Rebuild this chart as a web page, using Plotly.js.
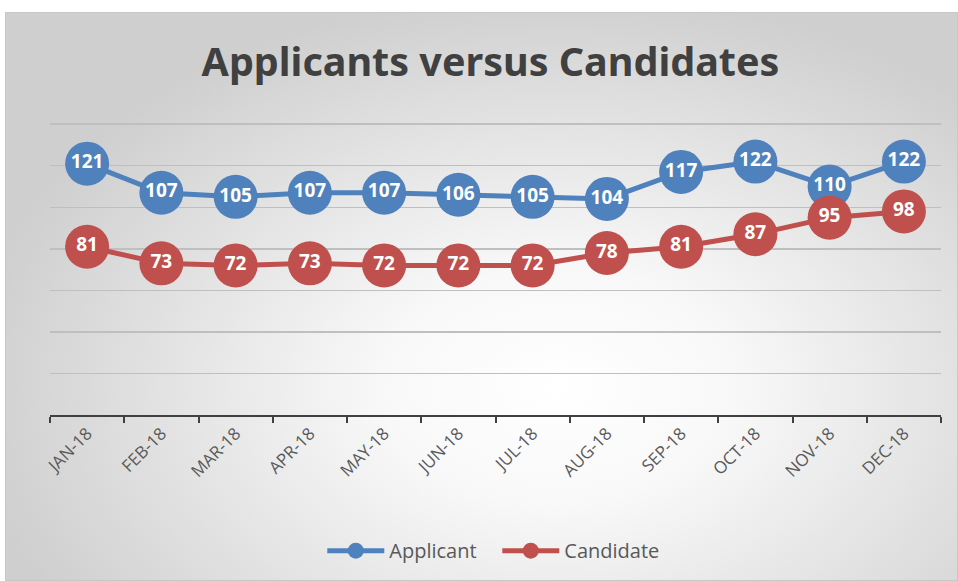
<!DOCTYPE html>
<html>
<head>
<meta charset="utf-8">
<script src="https://cdn.plot.ly/plotly-3.0.1.min.js"></script>
<style>
  body { margin: 0; background: #fff; }
  #frame {
    position: absolute; left: 5px; top: 12px; width: 951px; height: 567px;
    border: 1px solid #c8c8c8;
    background: radial-gradient(ellipse 62% 70% at 58% 66%, #ffffff 0%, #f8f8f8 30%, #cfcfcf 100%);
  }
  #chart { position: absolute; left: 0; top: 0; width: 958px; height: 581px; }
</style>
</head>
<body>
<div id="frame"></div>
<div id="chart"></div>
<script>
var months = ['JAN-18','FEB-18','MAR-18','APR-18','MAY-18','JUN-18','JUL-18','AUG-18','SEP-18','OCT-18','NOV-18','DEC-18'];
var applicant = [121,107,105,107,107,106,105,104,117,122,110,122];
var candidate = [81,73,72,73,72,72,72,78,81,87,95,98];
var gridVals = [20, 40, 60, 80, 100, 120, 140];

function series(name, y, color) {
  return {
    x: months, y: y, name: name, type: 'scatter',
    mode: 'lines+markers+text',
    text: y.map(String),
    textposition: 'middle center',
    textfont: { family: 'Open Sans', size: 19, color: '#ffffff', weight: 'bold' },
    line: { color: color, width: 5 },
    marker: { color: color, size: 44 },
    cliponaxis: false,
    hoverinfo: 'x+y'
  };
}

var data = [series('Applicant', applicant, '#4f81bd'), series('Candidate', candidate, '#c0504d')];

var layout = {
  width: 958, height: 581,
  margin: { l: 50, r: 17, t: 120, b: 165 },
  paper_bgcolor: 'rgba(0,0,0,0)',
  plot_bgcolor: 'rgba(0,0,0,0)',
  title: {
    text: '<b>Applicants versus Candidates</b>',
    font: { family: 'Noto Sans', size: 39.5, color: '#404040' },
    x: 0.512, xanchor: 'center', y: 0.893, yanchor: 'middle'
  },
  xaxis: {
    type: 'category',
    range: [-0.5, 11.5],
    tickson: 'boundaries',
    ticks: 'outside', ticklen: 6, tickwidth: 2, tickcolor: '#404040',
    showline: true, linecolor: '#404040', linewidth: 2,
    showgrid: false,
    tickangle: -45,
    tickfont: { family: 'Open Sans', size: 17, color: '#595959' },
    fixedrange: true
  },
  yaxis: {
    range: [0, 142],
    tickmode: 'array', tickvals: gridVals,
    showgrid: true, gridcolor: '#bfbfbf', gridwidth: 1.5,
    zeroline: false, showticklabels: false, ticks: '',
    fixedrange: true
  },
  showlegend: true,
  legend: {
    orientation: 'h', x: 0.502, xanchor: 'center', y: -0.455, yanchor: 'middle',
    font: { family: 'Open Sans', size: 20, color: '#595959' },
    itemwidth: 57, entrywidth: 103, bgcolor: 'rgba(0,0,0,0)'
  }
};

Plotly.newPlot('chart', data, layout, { displayModeBar: false, staticPlot: true });
</script>
</body>
</html>
